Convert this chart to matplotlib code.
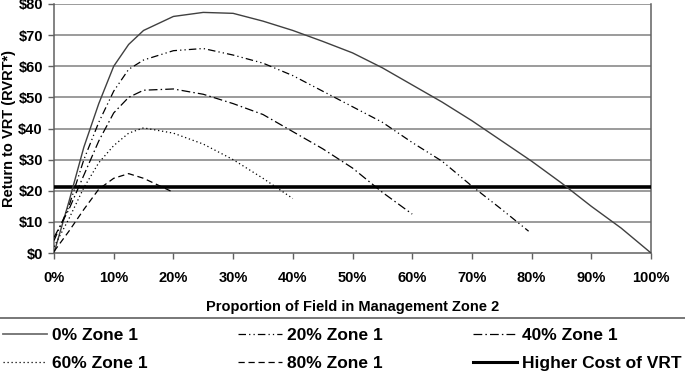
import numpy as np
import matplotlib
matplotlib.use("Agg")
import matplotlib.pyplot as plt
from matplotlib.lines import Line2D
from matplotlib.ticker import FuncFormatter

plt.rcParams['font.family'] = ['Liberation Sans', 'DejaVu Sans']
plt.rcParams['font.weight'] = 'bold'

# Proporcion del campo en zona 2 (%) y retorno ($) para cada caso
x0 = [0, 2.5, 5, 7.5, 10, 12.5, 15, 20, 25, 30, 35, 40, 45, 50, 55, 60, 65, 70, 75, 80, 85, 90, 95, 100]
y0 = [0, 16.5, 34, 48, 60, 67, 71.5, 76, 77.3, 77, 74.5, 71.5, 68, 64.3, 59.5, 54, 48.5, 42.5, 36, 29.5, 22.5, 15, 8, 0]

x20 = [0, 2.5, 5, 7.5, 10, 12.5, 15, 20, 25, 30, 35, 40, 45, 50, 55, 60, 65, 70, 75, 79.5]
y20 = [4, 15, 30, 42, 52, 59, 62, 65, 65.7, 63.6, 61, 57, 52, 47, 42, 35.5, 29.5, 21.5, 14, 7]

x40 = [0, 2.5, 5, 7.5, 10, 12.5, 15, 20, 25, 30, 35, 40, 45, 50, 55, 60]
y40 = [5, 14, 25, 36, 45, 50, 52.3, 52.7, 51, 48, 44.5, 39, 33.5, 27.3, 19.5, 12.5]

x60 = [0, 2.5, 5, 7.5, 10, 12.5, 15, 20, 25, 30, 35, 40]
y60 = [2, 11, 21, 29, 34.5, 38.5, 40.2, 38.5, 35, 30, 24, 17.5]

x80 = [0, 2.5, 5, 7.5, 10, 12.5, 15, 20]
y80 = [0.5, 7, 14, 20.5, 24, 25.5, 24, 19.5]

higher_cost = 21.1

fig = plt.figure(figsize=(6.85, 3.74), dpi=100)
ax = fig.add_axes([54/685, 1 - 253/374, 597/685, 249/374])

for v in range(10, 81, 10):
    ax.axhline(v, color='#808080', lw=1.1, zorder=1)

ax.axhline(higher_cost, color='black', lw=2.6, zorder=3)

ax.plot(x0, y0, color='#404040', lw=1.0, zorder=4)
ax.plot(x20, y20, color='black', lw=0.9, linestyle=(0, (6, 2.5, 1, 2.5, 1, 2.5)), zorder=4)
ax.plot(x40, y40, color='black', lw=0.9, linestyle=(0, (7, 2.5, 1.2, 2.5)), zorder=4)
ax.plot(x60, y60, color='black', lw=0.9, linestyle=(0, (1, 2.2)), zorder=4)
ax.plot(x80, y80, color='black', lw=0.9, linestyle=(0, (5, 3)), zorder=4)

ax.set_xlim(0, 100)
ax.set_ylim(0, 80)
ax.set_xticks(range(0, 101, 10))
ax.set_yticks(range(0, 81, 10))
ax.xaxis.set_major_formatter(FuncFormatter(lambda v, p: f"{int(v)}%"))
ax.yaxis.set_major_formatter(FuncFormatter(lambda v, p: f"${int(v)}"))
ax.tick_params(axis='both', direction='out', length=4, width=1, color='#606060',
               labelsize=10.5, pad=4)
ax.tick_params(axis='x', pad=9)
for lab in ax.get_xticklabels() + ax.get_yticklabels():
    lab.set_fontweight('bold')

for s in ['left', 'bottom', 'right']:
    ax.spines[s].set_color('#606060')
    ax.spines[s].set_linewidth(1.1)
ax.spines['top'].set_visible(False)

ax.set_xlabel('Proportion of Field in Management Zone 2', fontsize=10.5, fontweight='bold', labelpad=11)
ax.set_ylabel('Return to VRT (RVRT*)', fontsize=10.5, fontweight='bold')
ax.yaxis.set_label_coords(-0.063, 0.5)

# linea superior del recuadro de la leyenda
fig.add_artist(Line2D([0, 1], [1 - 318/374, 1 - 318/374], color='#606060', lw=1.2))

handles = [
    Line2D([], [], color='#707070', lw=1.3),
    Line2D([], [], color='black', lw=0.9, linestyle=(0, (1, 2.2))),
    Line2D([], [], color='black', lw=0.9, linestyle=(0, (6, 2.5, 1, 2.5, 1, 2.5))),
    Line2D([], [], color='black', lw=0.9, linestyle=(0, (5, 3))),
    Line2D([], [], color='black', lw=0.9, linestyle=(0, (7, 2.5, 1.2, 2.5))),
    Line2D([], [], color='black', lw=2.2),
]
labels = ['0% Zone 1', '60% Zone 1', '20% Zone 1', '80% Zone 1', '40% Zone 1', 'Higher Cost of VRT']
fig.legend(handles, labels, ncol=3, loc='upper left', bbox_to_anchor=(0.0, 0.0, 1.0, 1 - 324/374),
           mode='expand', frameon=False, prop={'size': 12.5, 'weight': 'bold'},
           handlelength=2.5, handletextpad=0.3, labelspacing=0.75, borderaxespad=0.0,
           borderpad=0.2)

fig.savefig('out.png', dpi=100)
